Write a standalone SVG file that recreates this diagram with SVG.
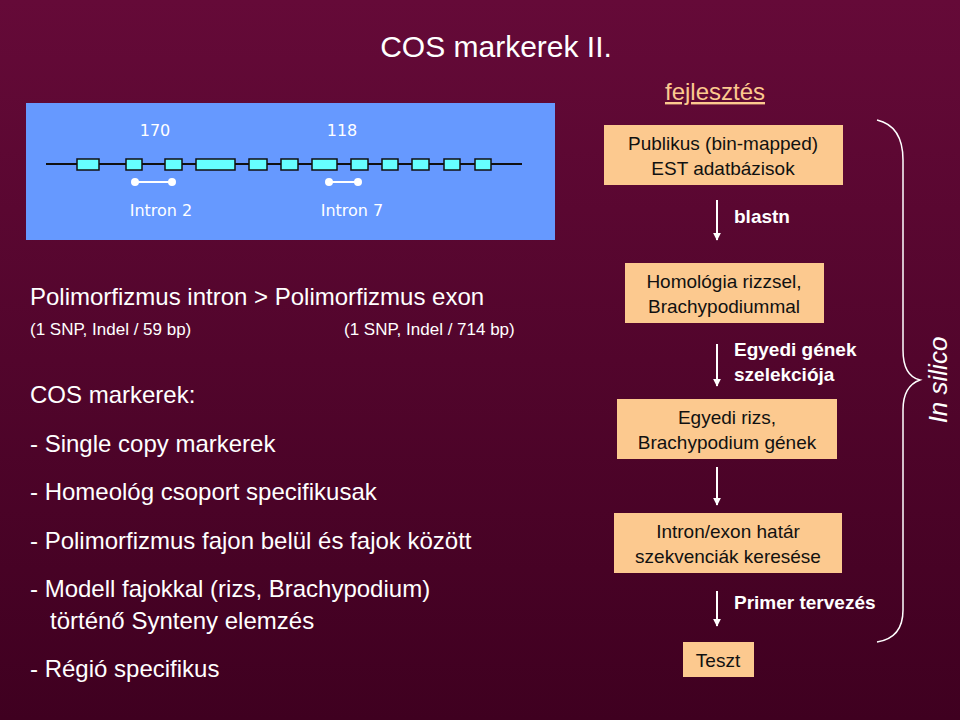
<svg xmlns="http://www.w3.org/2000/svg" width="960" height="720" viewBox="0 0 960 720">
<defs>
<linearGradient id="bg" x1="0" y1="0" x2="0" y2="1"><stop offset="0" stop-color="#650a38"/><stop offset="1" stop-color="#3f0020"/></linearGradient>
<marker id="ah" viewBox="0 0 10 10" refX="9" refY="5" markerWidth="4" markerHeight="4" orient="auto"><path d="M0,0L10,5L0,10z" fill="#fff"/></marker>
<style>
text{font-family:"Liberation Sans",Arial,sans-serif}
.w{fill:#fff;font-size:24px}
.ws{fill:#fff;font-size:17px}
.box{fill:#fcc98f}
.bt{fill:#111;font-size:19px;text-anchor:middle}
.lb{fill:#fff;font-size:19px;font-weight:bold}
.ex{fill:#66ffff;stroke:#111;stroke-width:1.5}
.ar{stroke:#fff;stroke-width:2;fill:none;marker-end:url(#ah)}
.gt{fill:#fff;font-size:16px;text-anchor:middle;font-family:"DejaVu Sans",sans-serif}
</style>
</defs>
<rect width="960" height="720" fill="url(#bg)"/>
<text x="496" y="57" fill="#fff" font-size="30" text-anchor="middle">COS markerek II.</text>
<text x="715" y="100" fill="#fcc98f" font-size="24" text-anchor="middle" text-decoration="underline">fejlesztés</text>
<g id="gene">
<rect x="26" y="103" width="529" height="137" fill="#6699ff"/>
<line x1="46" y1="164" x2="522" y2="164" stroke="#111" stroke-width="2"/>
<rect class="ex" x="77" y="159" width="22" height="11"/><rect class="ex" x="126" y="159" width="16" height="11"/><rect class="ex" x="165" y="159" width="17" height="11"/><rect class="ex" x="196" y="159" width="39" height="11"/><rect class="ex" x="249" y="159" width="18" height="11"/><rect class="ex" x="281" y="159" width="17" height="11"/><rect class="ex" x="312" y="159" width="25" height="11"/><rect class="ex" x="351" y="159" width="17" height="11"/><rect class="ex" x="382" y="159" width="16" height="11"/><rect class="ex" x="412" y="159" width="17" height="11"/><rect class="ex" x="444" y="159" width="16" height="11"/><rect class="ex" x="475" y="159" width="16" height="11"/>
<g stroke="#fff" stroke-width="2" fill="#fff"><line x1="135" y1="182" x2="172" y2="182"/><circle cx="135" cy="182" r="3"/><circle cx="172" cy="182" r="3"/><line x1="329" y1="182" x2="358" y2="182"/><circle cx="329" cy="182" r="3"/><circle cx="358" cy="182" r="3"/></g>
<text class="gt" x="155" y="136">170</text><text class="gt" x="342" y="136">118</text>
<text class="gt" x="161" y="216">Intron 2</text><text class="gt" x="352" y="216">Intron 7</text>
</g>
<g id="left">
<text class="w" x="30" y="305">Polimorfizmus intron &gt; Polimorfizmus exon</text>
<text class="ws" x="30" y="335">(1 SNP, Indel / 59 bp)</text>
<text class="ws" x="344" y="335">(1 SNP, Indel / 714 bp)</text>
<text class="w" x="30" y="403">COS markerek:</text>
<text class="w" x="30" y="452">- Single copy markerek</text>
<text class="w" x="30" y="500">- Homeológ csoport specifikusak</text>
<text class="w" x="30" y="549">- Polimorfizmus fajon belül és fajok között</text>
<text class="w" x="30" y="597">- Modell fajokkal (rizs, Brachypodium)</text>
<text class="w" x="50" y="629">történő Synteny elemzés</text>
<text class="w" x="30" y="677">- Régió specifikus</text>
</g>
<g id="n1"><rect class="box" x="604" y="125" width="239" height="60"/><text class="bt" x="723" y="150">Publikus (bin-mapped)</text><text class="bt" x="723" y="175">EST adatbázisok</text></g>
<g id="n2"><rect class="box" x="625" y="263" width="199" height="60"/><text class="bt" x="724" y="288">Homológia rizzsel,</text><text class="bt" x="724" y="313">Brachypodiummal</text></g>
<g id="n3"><rect class="box" x="617" y="399" width="220" height="60"/><text class="bt" x="727" y="424">Egyedi rizs,</text><text class="bt" x="727" y="449">Brachypodium gének</text></g>
<g id="n4"><rect class="box" x="614" y="513" width="228" height="60"/><text class="bt" x="728" y="538">Intron/exon határ</text><text class="bt" x="728" y="563">szekvenciák keresése</text></g>
<g id="n5"><rect class="box" x="683" y="642" width="71" height="35"/><text class="bt" x="718" y="667">Teszt</text></g>
<g id="connectors">
<line class="ar" x1="717" y1="200" x2="717" y2="240"/>
<line class="ar" x1="717" y1="344" x2="717" y2="386"/>
<line class="ar" x1="717" y1="467" x2="717" y2="505"/>
<line class="ar" x1="717" y1="591" x2="717" y2="626"/>
<text class="lb" x="734" y="223">blastn</text>
<text class="lb" x="734" y="356">Egyedi gének</text>
<text class="lb" x="734" y="381">szelekciója</text>
<text class="lb" x="734" y="609">Primer tervezés</text>
<path d="M877,120 Q903,126 903,160 L903,350 Q903,376 920,380 Q903,386 903,410 L903,610 Q903,638 877,642" fill="none" stroke="#fff" stroke-width="1.5"/>
</g>
<text x="955" y="380" fill="#fff" font-size="26" font-style="italic" text-anchor="middle" transform="rotate(-90 955 380)" dy="-8">In silico</text>
</svg>
